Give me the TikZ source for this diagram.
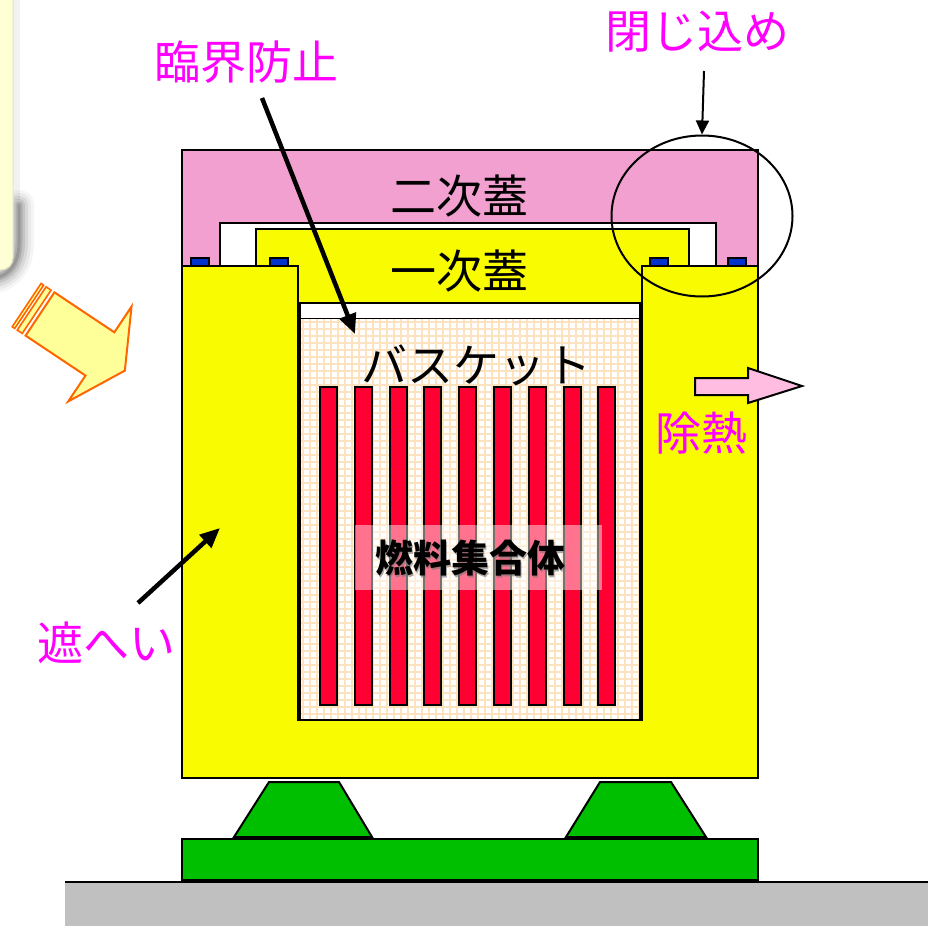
\documentclass[tikz,border=0pt]{standalone}
\usepackage{fontspec}
\newfontfamily\jp{Noto Sans CJK JP}
\usetikzlibrary{arrows.meta,shapes.geometric}

\definecolor{lidpink}{RGB}{242,160,208}
\definecolor{shieldyellow}{RGB}{249,251,0}
\definecolor{sealblue}{RGB}{0,51,204}
\definecolor{rodred}{RGB}{255,0,51}
\definecolor{gridorange}{RGB}{253,226,192}
\definecolor{supportgreen}{RGB}{0,190,0}
\definecolor{groundgray}{RGB}{192,192,192}
\definecolor{labelmagenta}{RGB}{255,0,255}
\definecolor{heatpink}{RGB}{255,190,225}
\definecolor{arrowfill}{RGB}{255,255,153}
\definecolor{arroworange}{RGB}{255,102,0}
\definecolor{papercream}{RGB}{255,255,214}
\definecolor{paperedge}{RGB}{225,225,190}

\tikzset{
  part/.style={draw=black, line width=2pt, line join=miter},
  tag/.style={font=\jp\fontsize{46}{46}\selectfont, text=labelmagenta, inner sep=0pt},
  caption/.style={font=\jp\fontsize{46}{46}\selectfont, text=black, inner sep=0pt},
  pointer/.style={draw=black, line width=4.5pt, -{Triangle[length=20pt,width=17pt]}},
  thinpointer/.style={draw=black, line width=2pt, -{Triangle[length=14pt,width=13pt]}},
  rod/.style={part, fill=rodred},
  seal/.style={draw=black, line width=1.5pt, fill=sealblue},
  support/.style={part, fill=supportgreen},
  stripe/.style={fill=arrowfill, draw=arroworange, line width=1.6pt, line join=miter}
}

\begin{document}
\begin{tikzpicture}[x=1pt,y=-1pt]
\useasboundingbox (0,0) rectangle (928,926);

% ---------- sheet of paper at the left edge, with its soft shadow ----------
\draw[black, opacity=0.05, line width=6pt] (17,-5) -- (17,200);
\foreach \w/\o in {30/0.04,24/0.05,18/0.07,12/0.09,7/0.11,3/0.13}
  \draw[black, opacity=\o, line width=\w pt, line cap=round]
    (19,205) -- (19,243) .. controls (19,262) and (10,276) .. (-6,278);
\fill[papercream, draw=paperedge, line width=1pt, rounded corners=12pt]
  (-20,-20) -- (13,-20) -- (13,270) -- (-20,270) -- cycle;

% ---------- striped block arrow ----------
\begin{scope}[shift={(40,314)}, x={(0.832pt,-0.555pt)}, y={(0.555pt,0.832pt)}]
  \path[stripe, line width=2pt]
    (0,26) -- (72,26) -- (72,57) -- (102,0) -- (72,-57) -- (72,-26) -- (0,-26) -- cycle;
  \path[stripe] (-16,-26) -- (-13,-26) -- (-13,26) -- (-16,26) -- cycle;
  \path[stripe] (-10,-26) -- (-4,-26) -- (-4,26) -- (-10,26) -- cycle;
\end{scope}

% ---------- secondary lid (pink) ----------
\path[part, fill=lidpink] (182,150) rectangle (758,266);
\path[part, fill=white] (220,223) rectangle (716,266);

% ---------- primary lid (yellow) ----------
\path[part, fill=shieldyellow] (256,229) rectangle (689,303);

% ---------- seals ----------
\foreach \x in {191,270,650,728}
  \path[seal] (\x,258) rectangle ++(18,8);

% ---------- shielding body ----------
\path[part, fill=shieldyellow]
  (182,266) -- (298,266) -- (298,720) -- (642,720) -- (642,266) -- (758,266)
  -- (758,778) -- (182,778) -- cycle;

% ---------- gap under the primary lid ----------
\path[part, fill=white] (300,303) rectangle (640,319);

% ---------- basket with its lattice ----------
\fill[white] (300,319) rectangle (640,720);
\begin{scope}
  \clip (300,319) rectangle (640,720);
  \foreach \x in {303,310,...,640}
    \draw[gridorange, line width=1.8pt] (\x,319) -- (\x,720);
  \foreach \y in {322,329,...,720}
    \draw[gridorange, line width=1.8pt] (300,\y) -- (640,\y);
\end{scope}
\draw[black, line width=2pt] (300,319) -- (300,720) -- (640,720) -- (640,319);

% ---------- fuel assemblies ----------
\foreach \i in {0,...,8}
  \path[rod] ({320+34.8*\i},387) rectangle ++(17,318);

\fill[white, opacity=0.45] (355,525) rectangle (602,590);
\node[font=\jp\bfseries\fontsize{38}{38}\selectfont, text=black!55, opacity=0.6, inner sep=0pt]
  (fuelshade) at (471.5,559.5) {燃料集合体};
\node[font=\jp\bfseries\fontsize{38}{38}\selectfont, text=black, inner sep=0pt]
  (fuel) at (470,558) {燃料集合体};

% ---------- supports, base and floor ----------
\path[support] (269,782) -- (339,782) -- (372,837) -- (234,837) -- cycle;
\path[support] (600,782) -- (671,782) -- (706,837) -- (566,837) -- cycle;
\fill[groundgray] (65,882) rectangle (928,926);
\draw[black, line width=1.5pt] (65,882) -- (928,882);
\path[part, fill=supportgreen] (182,839) rectangle (758,880);

% ---------- labels inside the cask ----------
\node[caption] (lid2) at (459,196) {二次蓋};
\node[caption] (lid1) at (459,271) {一次蓋};
\node[caption] (basket) at (476,365) {バスケット};

% ---------- heat removal ----------
\path[draw=black, line width=2pt, fill=heatpink, line join=miter]
  (695,378) -- (748,378) -- (748,368) -- (802,386) -- (748,403) -- (748,395) -- (695,395) -- cycle;
\node[tag] (heat) at (701,433) {除熱};

% ---------- criticality prevention ----------
\node[tag] (crit) at (246,62) {臨界防止};
\coordinate (critfrom) at (262,98);
\coordinate (critto) at (355,334);
\draw[pointer] (critfrom) -- (critto);

% ---------- confinement ----------
\node[tag] (conf) at (697,32) {閉じ込め};
\node[ellipse, draw=black, line width=2pt, minimum width=181pt, minimum height=161pt, inner sep=0pt]
  (ring) at (702,216) {};
\coordinate (conffrom) at (704,71);
\draw[thinpointer] (conffrom) -- (ring.north);

% ---------- shielding ----------
\node[tag] (shield) at (106,643) {遮へい};
\coordinate (shieldfrom) at (138,603);
\coordinate (shieldto) at (220,528);
\draw[pointer] (shieldfrom) -- (shieldto);

\end{tikzpicture}
\end{document}
